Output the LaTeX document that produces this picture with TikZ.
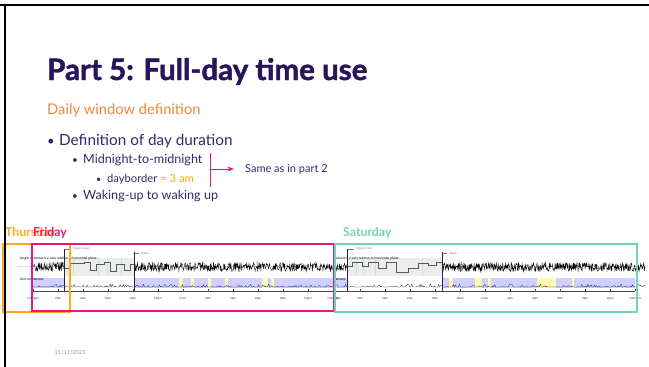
\documentclass[tikz,border=0pt]{standalone}
\usepackage{fontspec}
\setmainfont{Lato}
\newfontfamily\titlefont{Lato}[BoldFeatures={FakeBold=1.6}]
\newfontfamily\plotfont{Liberation Sans}
\usetikzlibrary{arrows.meta}

\definecolor{titlepurple}{RGB}{40,22,92}
\definecolor{textpurple}{RGB}{55,38,108}
\definecolor{suborange}{RGB}{240,134,58}
\definecolor{amber}{RGB}{246,170,0}
\definecolor{daymagenta}{RGB}{228,24,126}
\definecolor{dayteal}{RGB}{112,212,178}
\definecolor{dayorange}{RGB}{255,168,30}
\definecolor{armband}{RGB}{208,208,255}
\definecolor{nonwear}{RGB}{255,250,178}
\definecolor{sleepgray}{RGB}{236,236,236}
\definecolor{sleepgreen}{RGB}{186,232,210}
\definecolor{armline}{RGB}{30,30,90}

\tikzset{
  tinytext/.style={font=\plotfont\fontsize{3.4}{4}\selectfont,inner sep=0pt,anchor=west},
  ticklabel/.style={font=\plotfont\fontsize{3}{3.5}\selectfont,inner sep=0pt,text=black!80},
  marklabel/.style={font=\plotfont\fontsize{3}{3.5}\selectfont,inner sep=0pt,anchor=west,text=gray},
  daybox/.style={line width=1.6pt},
  daylabel/.style={font=\fontsize{12.3}{14}\selectfont\bfseries,anchor=base west,inner sep=0pt},
  bodytext/.style={anchor=base west,inner sep=0pt,text=textpurple},
}

\begin{document}
\begin{tikzpicture}[x=1pt,y=-1pt,>=Stealth]
  \useasboundingbox (0,0) rectangle (649,367);
  \pgfmathsetseed{11}

  % title block
  \node[anchor=base west,inner sep=0pt,text=titlepurple,
    font=\titlefont\fontsize{29.5}{32}\selectfont\bfseries] (title) at (47,80) {Part 5: Full-day time use};
  \node[anchor=base west,inner sep=0pt,text=suborange,
    font=\fontsize{14.7}{17}\selectfont] (sub) at (47,114) {Daily window definition};

  % bullets
  \node[bodytext,font=\fontsize{13}{15}\selectfont] (b1) at (47,145) {\textbullet};
  \node[bodytext,font=\fontsize{15.3}{17}\selectfont] (def) at (59,145) {Definition of day duration};
  \node[bodytext,font=\fontsize{10}{12}\selectfont] (b2) at (72,163) {\textbullet};
  \node[bodytext,font=\fontsize{12.6}{14}\selectfont] (mid) at (83,163) {Midnight-to-midnight};
  \node[bodytext,font=\fontsize{9}{11}\selectfont] (b3) at (96,182) {\textbullet};
  \node[bodytext,font=\fontsize{11.2}{13}\selectfont] (dayb) at (107,182) {dayborder \textcolor{amber}{= 3 am}};
  \node[bodytext,font=\fontsize{10}{12}\selectfont] (b4) at (72,199) {\textbullet};
  \node[bodytext,font=\fontsize{12.6}{14}\selectfont] (wake) at (83,199) {Waking-up to waking up};

  % bracket and arrow
  \coordinate (brtop) at (210,153);
  \coordinate (brbot) at (210,187);
  \coordinate (brmid) at (210,169);
  \node[anchor=west,inner ysep=0pt,inner xsep=11pt,text=textpurple,
    font=\fontsize{11}{13}\selectfont] (same) at (234,169) {Same as in part 2};
  \draw[daymagenta,line width=1pt] (brtop) -- (brbot);
  \draw[daymagenta,line width=0.8pt,->] (brmid) -- (same.west);

  % actogram panels: start of day / sleep onset / wake / clip
  \foreach \xo/\so/\wa/\cl/\cr in {33/64/134/18/342, 335/347/442/335/649}{
    \begin{scope}
      \clip (\cl,240) rectangle (\cr,305);
      \draw[gray!60,dotted,line width=0.3pt] (\xo-15,266) -- (\xo+312,266);
      \fill[sleepgray] (\so,258) rectangle (\wa,276);
      \fill[armband] (\xo,278) rectangle (\so,288);
      \fill[armband] (\wa,278) rectangle (\xo+300,288);
      \node[tinytext] at (\xo-13,259) {Angle of sensor's z-axis relative to horizontal plane:};
      \node[tinytext] at (\xo-13,279) {Arm movement:};
    \end{scope}
  }

  % sleep window details: green stripes, yellow non-wear
  \foreach \s in {73,98,107,121,356,363,375,422}
    \fill[sleepgreen] (\s,258) rectangle (\s+1.2,276);
  \foreach \a/\b in {179/183,191/194,208/211,225/228,262/268,271/274,449/453,475/482,488/491,537/556,572/574}
    \fill[nonwear] (\a,278) rectangle (\b,288);

  % angle signal
  \draw[black,line width=0.35pt] plot[domain=33:64,samples=70] (\x,{267+5*rand});
  \draw[black,line width=0.35pt] plot[domain=134:333,samples=520] (\x,{267+4.5*rand});
  \draw[black,line width=0.35pt] plot[domain=335:347,samples=30] (\x,{267+4*rand});
  \draw[black,line width=0.35pt] plot[domain=442:645,samples=520] (\x,{267+4.5*rand});
  \draw[black!65,line width=0.4pt] (64,268) -- (70,268) -- (70,263) -- (84,263) -- (84,262) -- (90,262)
    -- (90,270) -- (96,270) -- (96,264) -- (104,264) -- (104,262) -- (110,262) -- (110,271)
    -- (116,271) -- (116,264) -- (124,264) -- (124,270) -- (130,270) -- (130,264) -- (134,264);
  \draw[black!65,line width=0.4pt] (347,266) -- (352,266) -- (352,262) -- (362,262) -- (362,266)
    -- (368,266) -- (368,262) -- (378,262) -- (378,268) -- (386,268) -- (386,262) -- (396,262)
    -- (396,272) -- (408,272) -- (408,268) -- (418,268) -- (418,263) -- (428,263) -- (428,265)
    -- (436,265) -- (436,262) -- (442,262);

  % arm movement
  \draw[armline,line width=0.3pt] plot[domain=33:333,samples=300] (\x,{287-3*rnd^5});
  \draw[armline,line width=0.3pt] plot[domain=335:645,samples=300] (\x,{287-3*rnd^5});

  % time axes
  \foreach \xo/\cl/\cr in {33/18/342, 335/335/649}{
    \begin{scope}
      \clip (\cl,240) rectangle (\cr,305);
      \draw[black!70,line width=0.3pt] (\xo,291) -- (\xo+300,291);
      \foreach \lab [count=\k from 0] in {midnight,2am,4am,6am,8am,10am,noon,2pm,4pm,6pm,8pm,10pm,midnight}{
        \draw[black!70,line width=0.3pt] (\xo+25*\k,289) -- (\xo+25*\k,291);
        \node[ticklabel] at (\xo+25*\k,298.5) {\lab};
      }
    \end{scope}
  }

  % sleep onset and wake markers
  \foreach \so/\wa in {64/134, 347/442}{
    \draw[black!85,line width=0.7pt] (\so,249) -- (\so,291);
    \draw[gray,line width=0.2pt] (\so+1,249) -- (\so+7,249);
    \node[marklabel] at (\so+9,249) {Sleep onset};
    \draw[black!85,line width=0.7pt] (\wa,252) -- (\wa,291);
    \draw[gray,line width=0.2pt] (\wa+1,253) -- (\wa+5,253);
    \node[marklabel] at (\wa+7,253) {Wake};
  }

  % day windows
  \draw[daybox,dayorange] (3,244) rectangle (70,312);
  \draw[daybox,daymagenta] (32,244) rectangle (334,311);
  \draw[daybox,dayteal] (335,244) rectangle (637,312);
  \node[daylabel,text=dayorange] (thu) at (5,236) {Thursday};
  \node[daylabel,text=daymagenta] (fri) at (33,236) {Friday};
  \node[daylabel,text=dayteal] (sat) at (343,236) {Saturday};

  % slide frame and footer
  \draw[black,line width=2.4pt] (0,5) -- (649,5);
  \draw[black,line width=2.4pt] (5,4) -- (5,367);
  \node[text=gray!80,font=\fontsize{5.5}{6}\selectfont,inner sep=0pt] (date) at (70,353) {21/11/2023};
\end{tikzpicture}
\end{document}
